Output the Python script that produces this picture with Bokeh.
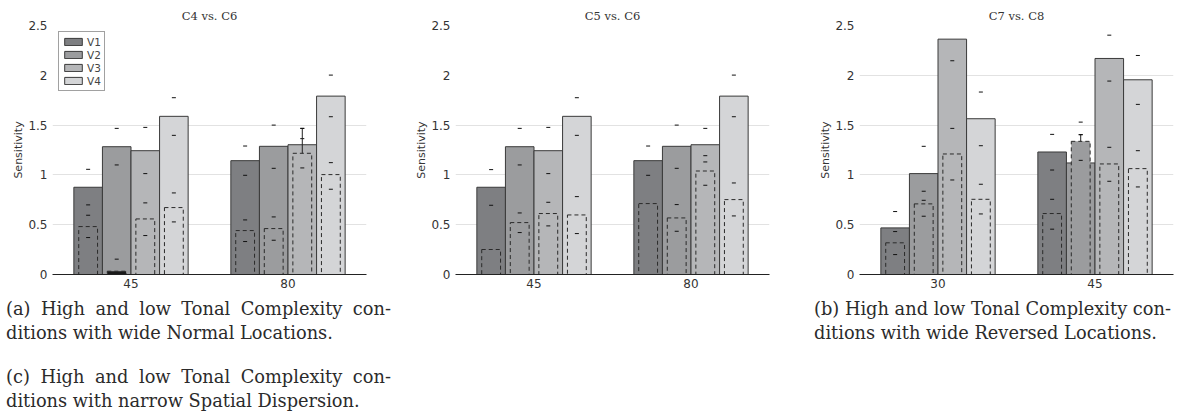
from bokeh.plotting import figure
from bokeh.layouts import row, column
from bokeh.models import (Div, ColumnDataSource, FixedTicker, Legend, LegendItem,
                          Range1d)
from bokeh.embed import file_html
from bokeh.resources import INLINE

# ---------------- data ----------------
versions = ["V1", "V2", "V3", "V4"]
y_ticks = [0, 0.5, 1, 1.5, 2, 2.5]
y_tick_labels = ["0", "0.5", "1", "1.5", "2", "2.5"]

# panel (a)  C4 vs. C6   -- rows: V1..V4, columns: categories
a_title = "C4 vs. C6"
a_cats = ["45", "80"]
a_solid = [[0.876, 1.143], [1.283, 1.287], [1.243, 1.303], [1.588, 1.791]]
a_solid_hi = [[1.056, 1.29], [1.467, 1.50], [1.477, 1.467], [1.775, 2.002]]
a_solid_lo = [[0.699, 0.996], [1.10, 1.066], [1.013, None], [1.397, 1.584]]
a_dashed = [[0.481, 0.441], [0.033, 0.461], [0.558, 1.217], [0.672, 1.003]]
a_dashed_hi = [[0.595, 0.548], [0.154, 0.578], [0.719, 1.364], [0.819, 1.123]]
a_dashed_lo = [[0.371, 0.331], [None, 0.344], [0.391, 1.07], [0.528, 0.856]]
a_stems = [("V3", "80", 1.217, 1.467)]
a_grid = [0.5, 1, 1.5]

# panel (middle)  C5 vs. C6
m_title = "C5 vs. C6"
m_cats = ["45", "80"]
m_solid = [[0.876, 1.143], [1.283, 1.287], [1.243, 1.303], [1.588, 1.791]]
m_solid_hi = [[1.053, 1.29], [1.467, 1.50], [1.477, 1.467], [1.775, 2.002]]
m_solid_lo = [[0.695, 0.996], [1.10, 1.066], [1.013, 1.13], [1.397, 1.584]]
m_dashed = [[0.251, 0.712], [0.521, 0.568], [0.612, 1.039], [0.598, 0.752]]
m_dashed_hi = [[None, None], [0.618, 0.702], [0.725, 1.193], [0.782, 0.919]]
m_dashed_lo = [[None, None], [0.421, 0.434], [0.488, 0.896], [0.411, 0.588]]
m_stems = []
m_grid = [0.5, 1, 1.5]

# panel (b)  C7 vs. C8
b_title = "C7 vs. C8"
b_cats = ["30", "45"]
b_solid = [[0.468, 1.23], [1.013, 1.12], [2.363, 2.169], [1.564, 1.955]]
b_solid_hi = [[0.632, 1.407], [1.287, 1.404], [None, 2.403], [1.832, 2.199]]
b_solid_lo = [[None, 1.049], [0.745, None], [2.146, 1.942], [1.293, 1.708]]
b_dashed = [[0.318, 0.612], [0.709, 1.337], [1.21, 1.11], [0.755, 1.063]]
b_dashed_hi = [[0.431, 0.755], [0.836, 1.53], [1.467, 1.277], [0.906, 1.243]]
b_dashed_lo = [[0.20, 0.455], [0.585, 1.146], [0.949, 0.936], [0.608, 0.879]]
b_stems = [("V2", "45", 1.337, 1.404)]
b_grid = [0.5, 1, 1.5, 2]

cap_a = ("(a) High and low Tonal Complexity con-", "ditions with wide Normal Locations.")
cap_b = ("(b) High and low Tonal Complexity con-", "ditions with wide Reversed Locations.")
cap_c = ("(c) High and low Tonal Complexity con-", "ditions with narrow Spatial Dispersion.")

# ---------------- style ----------------
colors = ["#7e7f82", "#9b9c9e", "#b5b6b8", "#d4d5d7"]
BAR_W = 0.182
DASH_W = 0.12
SANS = "DejaVu Sans"
SERIF = "DejaVu Serif"
FRAME_W = 314
FRAME_H = 249
TOP = 25
BOTTOM = 22


def make_panel(title, cats, solid, s_hi, s_lo, dashed, d_hi, d_lo, stems, grid,
               left, right, legend=False):
    p = figure(x_range=Range1d(0.5, 2.5), y_range=Range1d(0, 2.5),
               width=left + FRAME_W + right, height=TOP + FRAME_H + BOTTOM,
               min_border_left=left, min_border_right=right,
               min_border_top=TOP, min_border_bottom=BOTTOM,
               toolbar_location=None, output_backend="svg")
    p.outline_line_color = None
    p.background_fill_color = "white"
    p.border_fill_color = "white"

    p.title.text = title
    p.title.align = "center"
    p.title.text_font = SERIF
    p.title.text_font_size = "11.5px"
    p.title.text_font_style = "normal"
    p.title.text_color = "#333333"
    p.title.standoff = 6
    p.title.offset = 0

    # axes
    p.xaxis.ticker = FixedTicker(ticks=list(range(1, len(cats) + 1)))
    p.xaxis.major_label_overrides = {i + 1: c for i, c in enumerate(cats)}
    p.xaxis.axis_line_color = "#222222"
    p.xaxis.major_tick_line_color = None
    p.xaxis.minor_tick_line_color = None
    p.xaxis.major_tick_out = 0
    p.xaxis.major_tick_in = 0
    p.xaxis.minor_tick_out = 0
    p.xaxis.axis_label_standoff = 0
    p.xaxis.major_label_text_font = SANS
    p.xaxis.major_label_text_font_size = "12px"
    p.xaxis.major_label_text_color = "#333333"
    p.xaxis.major_label_standoff = 4

    p.yaxis.ticker = FixedTicker(ticks=y_ticks)
    p.yaxis.major_label_overrides = dict(zip(y_ticks, y_tick_labels))
    p.yaxis.axis_line_color = None
    p.yaxis.major_tick_line_color = None
    p.yaxis.minor_tick_line_color = None
    p.yaxis.major_tick_out = 0
    p.yaxis.major_tick_in = 0
    p.yaxis.minor_tick_out = 0
    p.yaxis.major_label_text_font = SANS
    p.yaxis.major_label_text_font_size = "12px"
    p.yaxis.major_label_text_color = "#333333"
    p.yaxis.major_label_standoff = 5
    p.yaxis.axis_label = "Sensitivity"
    p.yaxis.axis_label_text_font = SANS
    p.yaxis.axis_label_text_font_size = "11px"
    p.yaxis.axis_label_text_font_style = "normal"
    p.yaxis.axis_label_text_color = "#333333"
    p.yaxis.axis_label_standoff = 0

    p.xgrid.grid_line_color = None
    p.ygrid.ticker = FixedTicker(ticks=grid)
    p.ygrid.grid_line_color = "#e2e2e2"
    p.ygrid.grid_line_width = 1

    n = len(cats)
    offsets = [(-1.5 + i) * BAR_W for i in range(4)]
    items = []
    # solid bars + their caps
    for i, v in enumerate(versions):
        xs = [k + 1 + offsets[i] for k in range(n)]
        src = ColumnDataSource(dict(x=xs, top=solid[i]))
        r = p.vbar(x="x", top="top", bottom=0, width=BAR_W, source=src,
                   fill_color=colors[i], line_color="#3a3a3a", line_width=1)
        items.append(LegendItem(label=v, renderers=[r]))
    cx, cy = [], []
    for i in range(4):
        for k in range(n):
            for val in (s_hi[i][k], s_lo[i][k]):
                if val is not None:
                    cx.append(k + 1 + offsets[i])
                    cy.append(val)
    p.scatter(x=cx, y=cy, marker="dash", size=4, line_color="#111111", line_width=1)

    # dashed bars (very short ones appear as a solid dark sliver) + their caps
    for i, v in enumerate(versions):
        xs = [k + 1 + offsets[i] for k in range(n)]
        fills = ["#1a1a1a" if t < 0.05 else colors[i] for t in dashed[i]]
        src = ColumnDataSource(dict(x=xs, top=dashed[i], fill=fills))
        p.vbar(x="x", top="top", bottom=0, width=DASH_W, source=src,
               fill_color="fill", line_color="#2a2a2a", line_width=1,
               line_dash="4 3")
    dx, dy = [], []
    for i in range(4):
        for k in range(n):
            for val in (d_hi[i][k], d_lo[i][k]):
                if val is not None:
                    dx.append(k + 1 + offsets[i])
                    dy.append(val)
    p.scatter(x=dx, y=dy, marker="dash", size=4, line_color="#111111", line_width=1)

    # visible error stems
    for (v, c, lo, hi) in stems:
        xx = cats.index(c) + 1 + offsets[versions.index(v)]
        p.segment(x0=[xx], y0=[lo], x1=[xx], y1=[hi], line_color="#222222", line_width=1)
        p.scatter(x=[xx], y=[hi], marker="dash", size=4, line_color="#111111", line_width=1)

    if legend:
        lg = Legend(items=items, location="top_left", margin=6, padding=3,
                    spacing=0, glyph_width=22, glyph_height=9, label_height=13,
                    label_width=12, label_standoff=3, label_text_font=SANS,
                    label_text_font_size="10.5px", label_text_color="#444444",
                    border_line_color="#444444", border_line_width=1,
                    background_fill_color="white", background_fill_alpha=1)
        p.add_layout(lg)
    return p


f1 = make_panel(a_title, a_cats, a_solid, a_solid_hi, a_solid_lo, a_dashed,
                a_dashed_hi, a_dashed_lo, a_stems, a_grid, 52, 27, legend=True)
f2 = make_panel(m_title, m_cats, m_solid, m_solid_hi, m_solid_lo, m_dashed,
                m_dashed_hi, m_dashed_lo, m_stems, m_grid, 62, 20)
f3 = make_panel(b_title, b_cats, b_solid, b_solid_hi, b_solid_lo, b_dashed,
                b_dashed_hi, b_dashed_lo, b_stems, b_grid, 70, 12)

FONT_CSS = f"font-family:'{SERIF}',serif;font-size:17.8px;line-height:24px;color:#2b2b2b;"


def block(lines, line1_width, justify):
    if justify:
        first = (f'<div style="width:{line1_width}px;text-align:justify;'
                 f'text-align-last:justify;">{lines[0]}</div>')
    else:
        first = f'<div style="white-space:nowrap;">{lines[0]}</div>'
    return first + f'<div style="white-space:nowrap;">{lines[1]}</div>'


html_ac = (f'<div style="{FONT_CSS}padding-left:6px;padding-top:1px;">'
           f'{block(cap_a, 385, True)}'
           f'<div style="height:20px;"></div>'
           f'{block(cap_c, 385, True)}</div>')
html_b = (f'<div style="{FONT_CSS}padding-left:25px;padding-top:1px;">'
          f'{block(cap_b, 360, False)}</div>')

div_ac = Div(text=html_ac, width=393, height=117, margin=(0, 0, 0, 0))
div_b = Div(text=html_b, width=396, height=49, margin=(0, 0, 0, 0))

layout = row(column(f1, div_ac), f2, column(f3, div_b))

html = file_html(layout, INLINE)
html = html.replace("<head>", "<head><style>html,body{overflow:hidden;}</style>", 1)
open("out.html", "w").write(html)
